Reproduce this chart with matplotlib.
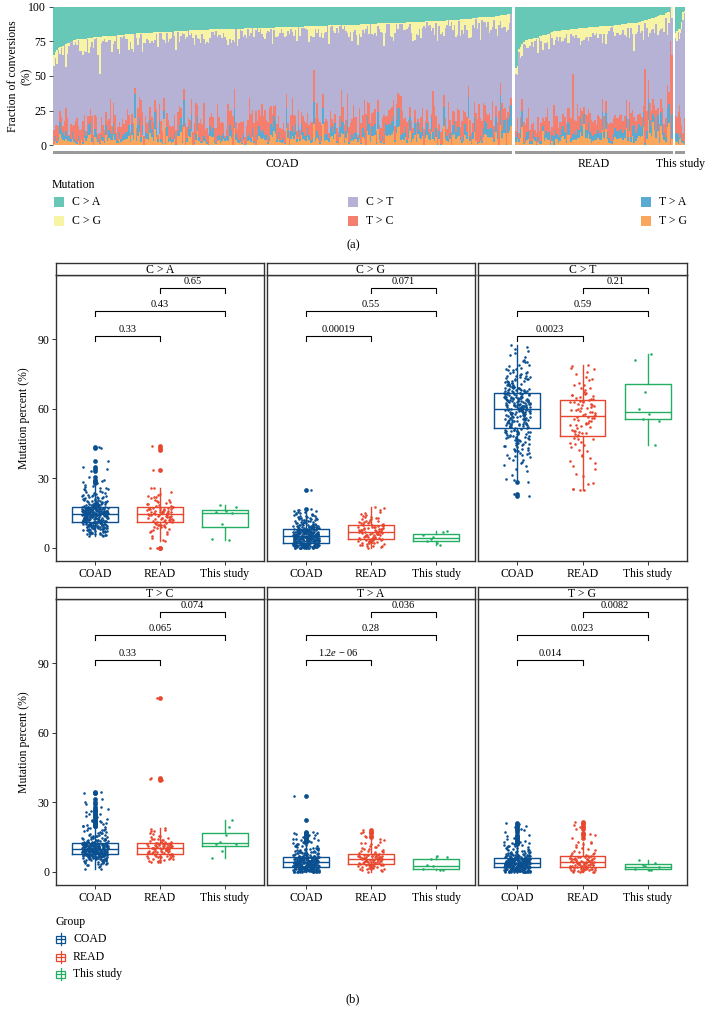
import numpy as np
import matplotlib
matplotlib.use("Agg")
import matplotlib.pyplot as plt
from matplotlib.patches import Rectangle
from matplotlib.lines import Line2D

plt.rcParams['font.family'] = ['Liberation Serif', 'DejaVu Serif']
plt.rcParams['mathtext.fontset'] = 'custom'
plt.rcParams['mathtext.rm'] = 'Liberation Serif'
plt.rcParams['mathtext.it'] = 'Liberation Serif:italic'

# ---------------- data ----------------
mutations = ["C > A", "C > G", "C > T", "T > C", "T > A", "T > G"]
groups = ["COAD", "READ", "This study"]
mut_colors = ["#68C8B7", "#F8F4A6", "#B5B2D6", "#F47F6F", "#5BAAD1", "#F8A75C"]
group_colors = ["#0A4F8F", "#E8472E", "#23AE63"]

p_labels = [["0.33", "0.43", "0.65"],
            ["0.00019", "0.55", "0.071"],
            ["0.0023", "0.59", "0.21"],
            ["0.33", "0.065", "0.074"],
            [r"1.2$\mathit{e}$ − 06", "0.28", "0.036"],
            ["0.014", "0.023", "0.0082"]]

coad_ca = [12.3, 8.4, 19.6, 15.2, 10.1, 13.7, 22.4, 16.1, 6.8, 14.0, 17.3, 24.8, 11.9, 9.5, 15.8, 18.9, 12.8, 7.2, 16.9, 21.0,
           43.5, 14.2, 9.8, 16.4, 11.5, 5.6, 20.3, 15.0, 12.9, 17.6, 8.9, 18.2, 13.1, 10.7, 16.7, 25.9, 14.4, 7.7, 15.5, 19.1,
           10.4, 17.1, 13.3, 23.7, 6.2, 15.9, 12.0, 18.5, 14.6, 9.1, 16.3, 29.5, 11.4, 20.8, 8.0, 15.4, 13.9, 17.4, 10.9, 19.8,
           15.7, 11.1, 21.6, 7.9, 14.3, 12.6, 26.4, 16.0, 9.3, 13.5, 18.0, 17.0, 5.2, 14.1, 22.9, 15.3, 10.2, 11.8, 19.4, 16.6,
           9.7, 16.2, 37.5, 12.4, 14.9, 8.6, 18.7, 13.0, 17.5, 6.5, 20.0, 11.3, 15.6, 24.1, 10.6, 14.5, 16.8, 21.9, 13.6, 7.4,
           13.8, 19.0, 10.8, 15.1, 22.0, 6.0, 12.2, 17.2, 28.5, 9.0, 14.7, 11.6, 16.5, 18.4, 8.2, 13.2, 15.9, 20.6, 10.0, 14.0,
           11.0, 25.2, 14.3, 7.0, 16.0, 19.3, 12.7, 15.4, 9.9, 35.0, 13.4, 17.3, 5.8, 21.2, 12.1, 11.7, 16.4, 8.8, 18.6, 15.8,
           17.0, 8.1, 13.1, 20.1, 10.5, 15.6, 23.3, 12.5, 16.9, 6.6, 14.2, 18.1, 9.4, 17.6, 11.2, 27.0, 15.2, 13.8, 7.5, 19.7,
           14.0, 6.9, 18.3, 16.3, 12.1, 30.5, 10.3, 15.0, 13.6, 21.4, 8.5, 17.4, 11.5, 19.9, 16.1, 9.6, 14.4, 24.5, 15.7, 5.4,
           12.9, 16.6, 9.2, 22.7, 15.3, 11.8, 18.8, 7.3, 14.6, 17.1, 43.0, 10.6, 13.0, 16.0, 20.4, 8.3, 15.5, 12.4, 26.0, 9.8,
           15.9, 10.0, 13.5, 19.5, 6.3, 17.7, 12.3, 23.0, 14.8, 8.7, 21.5, 11.4, 16.8, 34.0, 10.9, 13.9, 15.1, 18.0, 7.8, 14.1,
           8.0, 14.5, 20.7, 16.2, 11.0, 13.3, 25.5, 9.4, 17.5, 15.4, 12.6, 18.2, 5.9, 16.7, 22.2, 14.2, 10.4, 29.0, 15.8, 11.9,
           17.2, 12.0, 7.1, 19.2, 14.9, 10.7, 33.0, 13.7, 16.4, 9.0, 21.8, 15.0, 11.3, 18.5, 6.1, 14.0, 17.0, 24.0, 12.8, 8.9,
           13.0, 18.9, 15.6, 10.2, 23.8, 12.2, 16.9, 7.6, 20.2, 14.3, 9.1, 17.3, 26.8, 11.6, 15.2, 5.0, 19.0, 13.6, 16.1, 10.8,
           16.0, 9.3, 28.0, 14.6, 11.1, 17.6, 20.9, 6.4, 13.4, 15.7, 18.6, 12.5, 10.1, 22.6, 16.6, 8.4, 11.9, 19.6, 13.2, 15.3]
coad_cg = [1.2, 6.3, 3.8, 9.5, 0.4, 4.7, 7.1, 12.8, 2.9, 5.9, 1.8, 10.6, 4.1, 7.8, 0.9, 3.3, 6.6, 8.9, 1.5, 14.2,
           5.0, 0.0, 8.6, 1.6, 6.8, 11.3, 1.0, 4.4, 7.4, 3.1, 13.9, 0.6, 5.7, 9.2, 2.0, 4.9, 6.1, 15.6, 3.6, 7.9,
           3.4, 7.2, 0.2, 9.9, 4.6, 1.4, 6.0, 12.1, 2.7, 5.3, 8.4, 0.8, 7.6, 3.9, 16.8, 1.9, 6.5, 4.2, 10.8, 0.5,
           6.4, 2.1, 9.0, 4.0, 0.3, 7.7, 14.5, 3.0, 5.6, 1.1, 11.8, 4.8, 6.9, 0.7, 8.3, 2.4, 4.5, 13.0, 1.7, 7.0,
           0.1, 2.0, 8.8, 3.5, 6.7, 10.2, 1.3, 4.3, 7.3, 2.6, 12.5, 0.5, 5.9, 9.6, 3.2, 1.6, 6.2, 15.0, 4.9, 7.5,
           4.5, 9.3, 1.0, 6.1, 2.8, 13.4, 7.9, 0.0, 3.7, 5.2, 11.0, 1.9, 6.8, 4.0, 8.5, 0.6, 1.2, 7.2, 16.2, 5.6,
           7.0, 0.9, 3.9, 10.5, 5.5, 1.5, 8.2, 4.7, 12.0, 2.2, 6.4, 0.2, 9.1, 3.0, 5.0, 14.8, 1.8, 6.9, 4.1, 7.7,
           2.0, 6.6, 11.6, 24.8, 0.4, 4.4, 7.5, 1.2, 9.7, 3.3, 5.8, 0.0, 13.7, 4.8, 6.2, 2.6, 8.0, 1.7, 3.6, 10.1,
           5.3, 1.4, 8.7, 3.1, 0.8, 6.3, 15.9, 4.2, 7.8, 0.1, 10.9, 2.9, 5.7, 12.4, 1.9, 4.6, 6.8, 9.4, 2.4, 0.3,
           0.6, 7.4, 4.0, 11.4, 6.0, 2.1, 9.8, 3.4, 0.0, 5.4, 14.0, 4.9, 1.1, 7.9, 8.9, 2.7, 6.5, 1.6, 4.5, 12.9,
           3.8, 8.1, 0.3, 6.6, 10.0, 1.8, 5.1, 13.1, 2.5, 7.0, 0.7, 4.3, 9.0, 5.9, 1.3, 16.5, 3.2, 6.2, 0.9, 11.7,
           6.9, 1.9, 12.2, 4.6, 0.5, 7.6, 3.5, 9.2, 1.5, 5.5, 15.3, 0.0, 6.3, 3.9, 8.6, 2.8, 1.0, 10.4, 7.2, 4.1,
           4.2, 0.2, 7.7, 13.6, 2.6, 5.6, 1.1, 9.5, 6.7, 3.0, 0.8, 11.1, 4.7, 7.1, 1.7, 8.4, 3.7, 5.9, 14.3, 0.4,
           1.4, 5.7, 9.9, 3.3, 7.3, 0.0, 12.7, 4.4, 6.1, 2.0, 8.3, 5.0, 1.2, 16.0, 3.6, 7.9, 0.6, 10.7, 2.9, 6.4,
           7.5, 3.1, 0.1, 6.5, 11.9, 4.9, 1.6, 8.8, 2.4, 5.3, 13.3, 0.9, 7.0, 4.0, 9.6, 1.9, 6.2, 3.4, 0.0, 15.1]
coad_ct = [58.2, 47.5, 63.1, 71.4, 55.0, 39.8, 66.2, 60.5, 52.3, 75.9, 49.1, 61.7, 57.4, 69.0, 44.6, 64.3, 53.8, 80.2, 72.6, 50.6,
           65.0, 54.1, 42.3, 68.8, 59.6, 61.2, 50.9, 73.5, 56.7, 63.8, 35.4, 77.1, 52.9, 60.1, 48.2, 66.5, 58.8, 70.3, 45.7, 84.0,
           51.0, 64.7, 57.9, 86.5, 46.3, 60.8, 53.4, 69.7, 62.5, 41.0, 55.8, 74.2, 65.9, 49.6, 59.1, 67.8, 28.6, 63.3, 54.7, 71.9,
           61.5, 44.0, 68.1, 56.2, 72.8, 50.2, 63.6, 58.5, 37.9, 66.0, 53.0, 78.4, 47.8, 61.0, 55.5, 70.6, 64.9, 43.2, 59.9, 67.3,
           57.1, 69.4, 49.9, 62.2, 83.1, 53.6, 45.1, 64.0, 59.3, 71.0, 22.6, 60.3, 55.2, 67.0, 51.5, 65.5, 74.8, 58.0, 40.5, 63.0,
           63.9, 52.6, 76.5, 47.0, 60.0, 68.4, 56.0, 34.2, 65.2, 58.9, 72.1, 50.0, 61.9, 54.4, 81.0, 42.8, 66.7, 59.5, 69.9, 48.9,
           54.9, 66.3, 44.9, 70.0, 59.0, 61.6, 38.6, 73.0, 57.7, 64.6, 51.2, 87.5, 53.1, 60.7, 48.5, 67.5, 62.4, 56.5, 46.1, 75.2,
           60.9, 48.0, 57.3, 40.2, 63.5, 52.0, 41.7, 68.0, 55.9, 61.4, 71.6, 36.8, 59.7, 64.1, 50.4, 66.9, 58.3, 76.0, 62.1, 79.0,
           66.1, 58.6, 72.4, 43.9, 61.1, 55.3, 84.8, 49.4, 63.2, 57.0, 69.2, 39.0, 64.8, 52.5, 60.6, 74.0, 47.2, 59.2, 31.5, 68.6,
           53.3, 70.8, 62.6, 46.7, 59.4, 77.7, 64.4, 51.8, 56.3, 40.0, 61.3, 67.1, 58.1, 73.8, 48.7, 63.7, 44.4, 29.8, 66.4, 71.2,
           62.8, 45.4, 56.9, 68.2, 50.8, 65.1, 74.5, 58.4, 33.0, 61.8, 53.9, 80.6, 64.2, 48.4, 59.8, 70.4, 55.6, 42.1, 67.6, 60.4,
           57.6, 63.4, 49.0, 71.7, 54.3, 23.1, 60.9, 66.6, 52.2, 75.4, 58.7, 62.3, 44.3, 69.5, 55.1, 64.5, 47.9, 82.3, 41.9, 68.9,
           65.3, 50.5, 59.9, 43.6, 70.1, 62.8, 56.4, 78.8, 46.4, 63.0, 53.7, 67.9, 61.5, 37.2, 58.0, 72.9, 64.0, 76.7, 55.7, 29.3,
           58.9, 66.8, 52.7, 61.6, 47.3, 73.3, 55.4, 64.7, 40.9, 69.1, 60.0, 57.5, 85.6, 49.8, 63.1, 53.2, 67.4, 45.9, 71.8, 38.1,
           54.5, 61.9, 68.5, 48.1, 59.3, 64.9, 76.9, 42.6, 56.8, 63.6, 50.1, 70.7, 57.9, 66.2, 35.9, 60.8, 52.8, 79.9, 46.8, 73.9]
coad_tc = [9.1, 5.6, 13.8, 11.2, 8.3, 22.5, 10.4, 7.0, 16.1, 9.5, 12.0, 3.9, 8.8, 14.9, 10.9, 6.4, 18.2, 9.7, 11.7, 7.4,
           10.2, 7.5, 8.6, 15.3, 12.3, 4.8, 9.3, 27.0, 11.0, 6.9, 8.1, 13.1, 10.7, 2.5, 9.8, 17.4, 11.9, 7.7, 20.8, 8.9,
           6.2, 11.4, 9.0, 14.2, 8.4, 10.6, 34.5, 7.2, 12.4, 9.6, 19.1, 5.1, 10.0, 8.7, 13.5, 11.8, 3.3, 9.2, 24.3, 6.8,
           12.1, 8.5, 16.7, 7.9, 10.3, 5.9, 9.4, 21.6, 11.5, 7.3, 13.4, 9.9, 4.2, 8.0, 10.8, 15.8, 6.6, 12.2, 7.1, 29.4,
           8.2, 13.0, 10.5, 6.0, 9.7, 17.9, 11.3, 7.6, 25.1, 8.9, 12.4, 10.1, 5.3, 14.6, 9.2, 11.6, 2.0, 8.4, 19.4, 7.0,
           11.1, 9.0, 14.4, 7.8, 8.6, 20.2, 10.8, 6.5, 12.3, 9.4, 16.5, 4.6, 10.2, 8.1, 31.6, 7.4, 11.9, 9.8, 13.9, 5.7,
           9.5, 12.8, 7.1, 10.0, 23.0, 8.3, 11.7, 5.0, 15.0, 9.1, 10.6, 6.3, 18.6, 8.7, 12.1, 3.6, 26.2, 9.6, 11.3, 7.5,
           13.6, 8.0, 10.9, 6.7, 9.3, 21.0, 11.4, 7.7, 17.0, 8.8, 12.5, 4.4, 9.9, 14.1, 10.4, 1.2, 28.1, 9.2, 11.8, 6.1,
           10.1, 7.2, 15.6, 9.0, 12.0, 5.5, 8.5, 20.5, 11.1, 6.8, 9.7, 13.2, 10.7, 3.0, 8.2, 33.9, 11.6, 7.9, 18.8, 6.0,
           8.6, 11.5, 6.9, 14.7, 9.3, 10.3, 24.8, 7.4, 12.2, 8.1, 16.9, 5.2, 10.9, 9.8, 13.3, 4.0, 11.0, 8.9, 22.0, 7.6,
           12.4, 9.6, 7.3, 18.0, 10.5, 8.4, 13.7, 6.4, 11.2, 9.1, 30.2, 5.8, 10.0, 8.7, 15.4, 2.8, 11.9, 9.5, 19.8, 7.0,
           9.9, 14.3, 8.0, 11.6, 6.6, 21.9, 10.2, 7.8, 12.9, 9.2, 10.8, 4.9, 17.3, 8.5, 11.4, 5.4, 25.7, 9.0, 12.3, 7.1,
           7.7, 10.6, 16.0, 9.4, 12.7, 8.3, 11.0, 3.8, 23.6, 9.8, 10.4, 6.1, 14.0, 8.6, 12.0, 5.0, 19.2, 9.1, 11.5, 6.8,
           11.3, 8.2, 13.0, 7.0, 9.7, 34.0, 10.1, 6.2, 15.2, 8.9, 11.8, 4.5, 9.3, 20.0, 10.7, 7.5, 13.8, 8.4, 12.1, 1.5,
           10.0, 6.5, 12.6, 9.0, 11.3, 7.9, 17.6, 5.6, 10.5, 8.6, 26.8, 7.2, 12.2, 9.5, 14.8, 3.5, 11.1, 8.1, 21.3, 4.1]
coad_ta = [3.1, 0.8, 5.2, 9.4, 1.5, 4.0, 7.3, 2.6, 5.9, 0.2, 11.8, 3.7, 6.1, 1.9, 8.0, 2.9, 4.8, 14.6, 0.5, 5.5,
           4.6, 2.0, 7.9, 1.1, 3.5, 10.2, 5.7, 0.0, 2.4, 6.3, 16.1, 4.1, 1.6, 8.7, 3.0, 5.0, 0.7, 6.0, 3.9, 12.4,
           0.4, 6.4, 3.3, 4.5, 22.4, 1.3, 5.8, 2.7, 9.9, 0.9, 4.2, 6.2, 2.1, 7.6, 3.8, 13.9, 5.1, 1.8, 3.0, 8.5,
           5.3, 1.0, 2.8, 7.1, 4.4, 0.3, 11.0, 3.6, 6.0, 1.7, 15.3, 2.3, 4.9, 8.2, 0.0, 3.2, 5.6, 10.5, 1.4, 4.0,
           2.5, 6.2, 0.6, 4.7, 9.0, 3.4, 1.2, 5.4, 12.9, 2.0, 4.1, 7.7, 0.1, 6.4, 3.9, 17.0, 1.9, 5.0, 2.9, 8.8,
           4.3, 1.6, 8.3, 3.0, 5.9, 0.5, 7.0, 2.2, 32.7, 4.6, 1.0, 6.5, 3.7, 10.8, 0.2, 5.2, 2.6, 13.5, 4.0, 6.1,
           0.9, 5.5, 3.2, 11.4, 6.3, 2.4, 4.5, 0.3, 7.4, 3.8, 1.5, 9.6, 5.7, 2.9, 14.2, 4.9, 0.0, 6.6, 3.5, 1.1,
           4.8, 2.1, 4.2, 0.7, 8.6, 5.1, 3.3, 12.0, 1.3, 5.8, 2.7, 15.8, 0.4, 4.4, 7.2, 3.6, 6.0, 1.8, 9.3, 4.0,
           3.9, 0.0, 6.2, 2.5, 10.0, 4.8, 1.1, 7.8, 5.3, 3.1, 13.1, 0.8, 4.6, 2.3, 6.4, 1.7, 8.9, 0.6, 3.4, 16.6,
           5.0, 2.8, 9.2, 1.4, 4.1, 7.5, 0.2, 3.5, 6.1, 11.6, 2.0, 5.7, 4.7, 0.9, 8.1, 3.0, 14.9, 1.6, 6.3, 2.6,
           1.9, 6.7, 3.7, 0.1, 5.4, 12.6, 2.4, 4.9, 8.4, 0.6, 3.3, 6.0, 1.3, 10.4, 4.5, 2.9, 7.0, 5.2, 0.0, 3.8,
           4.4, 1.0, 7.9, 3.1, 5.8, 15.0, 2.5, 0.5, 6.2, 3.9, 9.7, 1.7, 4.9, 2.1, 11.2, 5.5, 3.4, 0.3, 6.8, 4.0,
           2.7, 5.6, 0.8, 8.0, 4.2, 1.5, 6.4, 13.8, 3.6, 0.0, 5.1, 2.3, 7.3, 4.7, 1.2, 10.1, 3.0, 6.0, 17.4, 1.8,
           6.5, 3.2, 1.1, 5.0, 9.5, 2.8, 0.4, 4.6, 7.6, 3.7, 12.2, 1.9, 5.9, 0.7, 4.1, 8.7, 2.4, 6.1, 16.2, 1.4,
           0.6, 4.5, 2.6, 7.0, 5.2, 1.3, 11.1, 3.5, 6.3, 0.0, 4.0, 8.3, 2.0, 5.7, 14.4, 3.3, 1.6, 6.0, 9.8, 2.9]
coad_tg = [2.9, 0.6, 4.8, 8.1, 1.4, 3.5, 6.6, 2.4, 5.2, 0.1, 10.3, 3.0, 5.7, 1.8, 7.2, 2.6, 4.2, 13.5, 0.9, 4.5,
           4.1, 1.7, 7.0, 0.8, 3.2, 9.2, 5.3, 0.0, 2.3, 5.9, 19.8, 3.8, 1.2, 7.8, 2.7, 4.6, 0.4, 5.0, 3.4, 11.0,
           0.3, 5.8, 3.1, 4.0, 15.2, 1.1, 5.1, 2.5, 8.6, 0.7, 3.7, 5.5, 1.9, 6.8, 3.3, 12.4, 4.4, 1.5, 2.8, 7.5,
           4.7, 0.9, 2.6, 6.4, 4.0, 0.2, 9.8, 3.3, 5.4, 1.6, 20.6, 2.2, 4.3, 7.3, 0.0, 2.9, 5.0, 10.7, 1.3, 3.6,
           2.0, 5.2, 0.5, 4.2, 8.0, 3.0, 1.0, 4.9, 11.5, 1.8, 3.5, 6.9, 0.0, 5.6, 3.4, 17.3, 3.2, 4.5, 2.5, 7.7,
           3.8, 1.3, 7.4, 2.7, 5.2, 0.4, 6.3, 1.9, 21.0, 4.1, 0.8, 5.8, 3.2, 9.6, 0.1, 4.6, 2.3, 12.9, 3.5, 5.5,
           0.7, 4.9, 2.9, 10.1, 5.6, 2.1, 4.0, 0.2, 6.5, 3.4, 1.4, 8.5, 5.1, 2.6, 14.0, 4.4, 0.0, 7.0, 3.1, 3.6,
           6.0, 1.8, 3.7, 0.6, 7.6, 4.5, 2.9, 11.2, 1.2, 5.1, 2.4, 18.7, 0.3, 3.9, 6.7, 3.2, 5.3, 1.5, 8.3, 4.3,
           3.4, 0.0, 5.5, 2.2, 9.0, 4.2, 0.9, 6.9, 4.8, 2.7, 12.1, 0.6, 4.0, 2.0, 5.7, 1.5, 7.9, 3.6, 3.0, 16.0,
           4.4, 2.5, 8.2, 1.0, 3.6, 6.6, 0.1, 3.1, 5.4, 10.6, 1.7, 4.9, 3.8, 0.5, 7.1, 2.8, 13.2, 1.3, 5.8, 4.1,
           1.6, 5.9, 3.3, 0.0, 4.7, 11.8, 2.0, 4.3, 7.5, 0.4, 2.9, 5.3, 1.1, 9.3, 4.0, 2.4, 6.4, 19.2, 3.0, 3.5,
           4.2, 0.9, 7.2, 2.8, 5.0, 14.8, 2.3, 0.3, 5.6, 3.4, 8.8, 1.4, 4.5, 1.9, 10.0, 4.9, 3.1, 0.0, 6.2, 3.7,
           2.4, 5.1, 0.6, 7.0, 3.7, 1.2, 5.7, 12.6, 3.2, 0.0, 4.6, 2.1, 6.7, 4.2, 1.0, 9.1, 2.7, 5.4, 17.9, 3.5,
           5.8, 2.9, 1.0, 4.5, 8.4, 2.5, 0.2, 4.1, 6.9, 3.3, 11.0, 1.7, 5.3, 0.5, 3.6, 7.8, 2.2, 5.5, 15.6, 1.3,
           0.5, 4.0, 2.3, 6.3, 4.7, 1.1, 10.4, 3.1, 5.6, 0.0, 3.6, 7.4, 1.8, 5.2, 13.0, 2.9, 1.4, 5.0, 8.9, 2.6]

read_ca = [12.5, 17.0, 8.9, 21.4, 14.0, 0.0, 16.2, 11.6, 25.8, 13.2, 15.5, 6.7, 19.3, 10.4, 17.5, 12.9, 44.0, 15.0, 9.8, 22.6,
           16.8, 10.9, 13.6, 42.0, 7.4, 15.2, 20.1, 12.2, 3.5, 17.3, 11.9, 18.6, 14.4, 9.2, 16.0, 24.0, 13.0, 5.1, 15.8, 19.9,
           14.7, 9.5, 22.0, 12.7, 16.5, 0.0, 13.9, 18.1, 11.3, 15.6, 33.5, 8.1, 14.1, 17.1, 12.0, 20.7, 15.3, 10.1, 26.0, 6.0,
           11.1, 18.9, 15.9, 7.9, 13.3, 43.0, 16.6, 10.6, 21.8, 12.4, 14.9, 4.4, 17.4, 13.8, 19.0, 9.9, 15.1, 11.5, 23.4, 14.3,
           13.5, 8.4, 17.8, 15.4, 11.8, 20.5, 10.0, 16.9, 2.9, 14.6, 18.3, 12.6, 15.7, 7.0, 22.8, 13.1, 16.4, 9.0, 19.6, 17.2]
read_cg = [5.2, 8.1, 2.4, 12.6, 6.0, 0.0, 9.0, 4.7, 15.1, 7.5, 3.1, 10.8, 5.9, 1.8, 8.6, 4.1, 13.9, 7.2, 2.9, 11.4,
           7.8, 3.5, 10.1, 6.3, 1.2, 9.4, 4.9, 17.3, 2.2, 8.3, 5.6, 12.0, 3.8, 7.0, 14.4, 6.6, 0.9, 9.7, 4.4, 11.1,
           4.3, 9.2, 6.7, 0.5, 13.2, 7.7, 2.6, 5.4, 10.5, 3.3, 8.8, 16.2, 6.1, 1.5, 7.3, 11.8, 4.0, 9.9, 2.0, 12.9,
           8.5, 2.8, 5.5, 11.0, 7.1, 3.9, 14.8, 6.4, 1.0, 9.6, 4.6, 10.3, 8.0, 2.1, 6.9, 17.7, 5.3, 3.6, 12.3, 7.9,
           6.2, 10.7, 1.6, 8.9, 4.8, 15.6, 3.0, 7.4, 12.8, 5.7, 0.7, 9.1, 6.5, 11.6, 2.5, 7.6, 4.2, 13.5, 8.2, 3.4]
read_ct = [55.2, 61.0, 44.3, 70.4, 52.1, 25.0, 63.0, 49.5, 74.8, 58.7, 40.2, 66.1, 54.0, 59.9, 36.5, 68.0, 50.6, 62.2, 45.8, 77.5,
           60.5, 48.3, 65.4, 30.8, 25.6, 72.3, 42.1, 58.2, 53.7, 64.7, 56.0, 61.8, 51.0, 79.0, 46.9, 57.0, 67.2, 55.5, 38.8, 63.4,
           52.8, 66.9, 59.4, 47.0, 62.7, 25.3, 54.6, 71.1, 33.9, 57.8, 49.0, 64.2, 60.1, 43.5, 75.9, 56.3, 28.2, 63.1, 50.3, 69.0,
           58.9, 45.2, 73.6, 53.1, 61.5, 39.6, 65.9, 56.6, 48.8, 77.0, 25.1, 62.9, 54.9, 68.7, 59.6, 41.7, 51.8, 64.0, 57.2, 35.2,
           63.6, 50.0, 57.4, 66.4, 44.8, 60.7, 52.4, 78.2, 27.4, 62.0, 55.8, 70.0, 47.5, 58.5, 64.9, 37.3, 53.5, 31.7, 72.7, 49.4]
read_tc = [9.2, 11.8, 6.5, 15.0, 10.0, 75.0, 12.1, 8.3, 17.6, 10.9, 5.2, 13.4, 9.6, 7.0, 11.3, 8.8, 14.2, 10.6, 4.3, 6.1,
           11.0, 7.4, 13.1, 9.9, 40.3, 12.0, 8.6, 5.8, 10.4, 16.4, 9.0, 11.6, 4.8, 18.3, 10.1, 7.6, 12.3, 8.1, 14.7, 6.3,
           8.0, 12.2, 10.5, 6.0, 15.7, 40.0, 9.4, 11.4, 7.2, 13.9, 10.2, 5.5, 11.9, 8.9, 19.0, 7.9, 10.8, 12.9, 4.1, 6.8,
           10.7, 6.7, 13.6, 8.4, 11.5, 4.5, 16.9, 9.3, 12.5, 7.7, 39.8, 10.3, 8.7, 14.4, 11.2, 5.0, 9.8, 12.0, 6.9, 17.8,
           9.5, 12.6, 7.1, 11.1, 5.6, 10.0, 15.3, 8.2, 13.0, 11.7, 6.4, 9.1, 18.6, 10.9, 4.9, 8.5, 12.2, 14.0, 7.5, 10.4]
read_ta = [4.6, 7.0, 2.2, 10.4, 5.1, 0.0, 6.8, 3.9, 12.7, 6.1, 1.4, 9.0, 4.2, 7.5, 2.9, 5.3, 17.9, 6.4, 3.1, 8.3,
           6.6, 3.0, 8.9, 5.5, 1.0, 7.3, 4.4, 13.6, 2.6, 6.0, 4.9, 11.2, 3.4, 7.7, 15.2, 5.8, 1.9, 3.8, 4.0, 9.7,
           3.7, 8.6, 6.2, 0.8, 11.9, 16.8, 2.3, 4.8, 9.4, 2.8, 7.4, 14.0, 5.0, 1.5, 6.7, 6.3, 3.6, 7.1, 2.0, 5.6,
           7.2, 2.5, 5.2, 9.9, 6.5, 3.3, 12.4, 5.9, 1.2, 8.7, 4.3, 17.4, 7.6, 1.7, 6.9, 10.9, 4.7, 3.2, 4.1, 5.4,
           5.5, 9.2, 1.1, 7.8, 4.5, 13.0, 2.7, 6.3, 10.6, 5.3, 0.6, 6.8, 6.0, 11.5, 3.4, 7.0, 3.9, 15.7, 4.9, 2.1]
read_tg = [3.5, 6.0, 1.2, 9.1, 4.8, 0.0, 5.9, 2.7, 11.5, 5.2, 0.6, 8.0, 3.1, 6.4, 1.8, 4.0, 21.6, 1.5, 2.3, 7.4,
           5.5, 2.0, 7.9, 4.1, 0.3, 6.5, 3.3, 15.8, 1.5, 5.0, 3.8, 10.2, 2.5, 6.7, 13.0, 4.5, 0.9, 1.0, 2.9, 19.4,
           2.6, 7.5, 5.3, 0.1, 17.0, 4.4, 1.0, 3.9, 9.6, 2.2, 6.2, 12.4, 4.9, 0.7, 5.8, 4.2, 3.0, 21.0, 1.7, 3.6,
           6.3, 1.9, 4.3, 10.9, 5.6, 2.4, 14.6, 5.1, 0.4, 8.3, 3.4, 20.3, 6.8, 1.3, 4.7, 1.6, 3.7, 2.8, 11.9, 0.0,
           4.9, 8.8, 0.8, 6.6, 3.2, 12.9, 2.1, 5.7, 9.9, 4.0, 0.2, 3.0, 5.4, 16.3, 2.9, 6.1, 3.9, 18.5, 1.4, 0.5]

ts_ca = [18.5, 17.5, 16.0, 15.5, 15.0, 10.5, 4.0, 3.5]
ts_cg = [4.0, 7.5, 2.2, 3.0, 6.8, 4.6, 5.5, 1.2]
ts_ct = [55.7, 54.7, 57.5, 60.0, 44.5, 67.2, 81.0, 83.6]
ts_tc = [13.0, 12.0, 16.0, 12.0, 22.5, 9.0, 6.0, 19.5]
ts_ta = [5.5, 6.5, 7.0, 3.0, 1.0, 2.5, 1.5, 0.8]
ts_tg = [3.0, 2.0, 1.0, 5.0, 4.0, 2.5, 1.5, 1.0]

grp_data = [[coad_ca, coad_cg, coad_ct, coad_tc, coad_ta, coad_tg],
            [read_ca, read_cg, read_ct, read_tc, read_ta, read_tg],
            [ts_ca, ts_cg, ts_ct, ts_tc, ts_ta, ts_tg]]

# ---------------- layout helpers ----------------
W, H = 706, 1018
fig = plt.figure(figsize=(W / 100, H / 100), dpi=100)


def fr(x0, y0, x1, y1):
    return [x0 / W, 1 - y1 / H, (x1 - x0) / W, (y1 - y0) / H]


def fx(x):
    return x / W


def fy(y):
    return 1 - y / H


def jitter(n, width=0.2):
    k = np.arange(n)
    return ((k * 0.6180339887498949 + 0.31) % 1.0 - 0.5) * 2 * width


FS = 8.5

# ---------------- panel (a) ----------------
panel_a_x = [(53, 512), (515, 673), (675, 685)]
ya_top, ya_bot = 0, 152
for gi, g in enumerate(grp_data):
    x0, x1 = panel_a_x[gi]
    n = len(g[0])
    ax = fig.add_axes(fr(x0, ya_top, x1, ya_bot))
    arr = np.array(g, dtype=float)
    frac = arr / arr.sum(axis=0) * 100
    order = np.argsort(-frac[0], kind='stable')
    frac = frac[:, order]
    pos = np.arange(n)
    bottom = np.zeros(n)
    for mi in [5, 4, 3, 2, 1, 0]:
        ax.bar(pos, frac[mi], bottom=bottom, width=1.0, color=mut_colors[mi],
               linewidth=0, antialiased=False)
        bottom += frac[mi]
    ax.set_xlim(-0.6, n - 0.4)
    ax.set_ylim(-5, 105)
    for s in ax.spines.values():
        s.set_visible(False)
    ax.set_xticks([])
    if gi == 0:
        ax.set_yticks([0, 25, 50, 75, 100])
        ax.tick_params(axis='y', length=3, width=0.6, color='#333333',
                       labelsize=FS, pad=2)
    else:
        ax.set_yticks([])
    fig.add_artist(Rectangle((fx(x0), fy(154)), (x1 - x0) / W, 3 / H, transform=fig.transFigure,
                             facecolor='#9a9a9a', edgecolor='none'))
    fig.text(fx((x0 + x1) / 2), fy(164), groups[gi], ha='center', va='center', fontsize=FS)

fig.text(fx(20), fy(76), "Fraction of conversions\n(%)", rotation=90, ha='center',
         va='center', fontsize=FS, linespacing=1.15)

# legend (a)
fig.text(fx(52), fy(185), "Mutation", ha='left', va='center', fontsize=FS)
leg_cols = [(54, [0, 1]), (348, [2, 3]), (641, [4, 5])]
leg_rows = [202, 221]
for kx, mis in leg_cols:
    for ri, mi in enumerate(mis):
        y = leg_rows[ri]
        fig.add_artist(Rectangle((fx(kx), fy(y + 5)), 10 / W, 10 / H, transform=fig.transFigure,
                                 facecolor=mut_colors[mi], edgecolor='none'))
        fig.text(fx(kx + 18), fy(y), mutations[mi], ha='left', va='center', fontsize=FS)
fig.text(fx(353), fy(245), "(a)", ha='center', va='center', fontsize=9)

# ---------------- panel (b) ----------------
cols_x = [(56, 264), (267, 475), (478, 687)]
zero_y = [548, 872]
ppu_b = 2.322
ylo, yhi = -5.6, 117.6
strip_h = 12
pairs = [(1, 2), (1, 3), (2, 3)]
br_y = [91.5, 102.0, 112.0]
tip = 2.3
edge = '#333333'

for k, m in enumerate(mutations):
    r, c = divmod(k, 3)
    x0, x1 = cols_x[c]
    top = zero_y[r] - yhi * ppu_b
    bot = zero_y[r] - ylo * ppu_b
    ax = fig.add_axes(fr(x0, top, x1, bot))
    for gi in range(3):
        vals = np.asarray(grp_data[gi][k], dtype=float)
        col = group_colors[gi]
        ax.boxplot([vals], positions=[gi + 1], widths=0.7, showcaps=False, manage_ticks=False,
                   boxprops=dict(color=col, linewidth=1.0),
                   medianprops=dict(color=col, linewidth=1.0),
                   whiskerprops=dict(color=col, linewidth=1.0),
                   flierprops=dict(marker='o', markersize=3.4, markerfacecolor=col,
                                   markeredgecolor=col, markeredgewidth=0))
        ax.scatter(gi + 1 + jitter(len(vals)), vals, s=3.4, color=col, linewidths=0, zorder=3)
    for (a, b), yv, lab in zip(pairs, br_y, p_labels[k]):
        ax.plot([a, a, b, b], [yv - tip, yv, yv, yv - tip], color='black', lw=0.8)
        ax.text((a + b) / 2, yv + 0.8, lab, ha='center', va='bottom', fontsize=7.5)
    ax.set_xlim(0.4, 3.6)
    ax.set_ylim(ylo, yhi)
    ax.set_xticks([1, 2, 3])
    ax.set_xticklabels(groups)
    ax.set_yticks([0, 30, 60, 90])
    ax.tick_params(length=3, width=0.7, color=edge, labelsize=FS, pad=2)
    if c != 0:
        ax.set_yticklabels([])
        ax.tick_params(axis='y', length=0)
    for s in ax.spines.values():
        s.set_linewidth(1.0)
        s.set_color(edge)
    sax = fig.add_axes(fr(x0, top - strip_h, x1, top))
    sax.set_xticks([])
    sax.set_yticks([])
    for s in sax.spines.values():
        s.set_linewidth(1.0)
        s.set_color(edge)
    sax.text(0.5, 0.45, m, ha='center', va='center', fontsize=FS, transform=sax.transAxes)
    if c == 0:
        fig.text(fx(24), fy((top + bot) / 2), "Mutation percent (%)", rotation=90,
                 ha='center', va='center', fontsize=FS)

# legend (b)
fig.text(fx(56), fy(922), "Group", ha='left', va='center', fontsize=FS)
for gi, y in enumerate([939, 957, 974]):
    col = group_colors[gi]
    fig.add_artist(Rectangle((fx(56), fy(y + 3.5)), 9 / W, 7 / H, transform=fig.transFigure,
                             facecolor='white', edgecolor=col, linewidth=0.9))
    fig.add_artist(Line2D([fx(56), fx(65)], [fy(y), fy(y)], transform=fig.transFigure,
                          color=col, linewidth=0.9))
    fig.add_artist(Line2D([fx(60.5), fx(60.5)], [fy(y - 6), fy(y + 6)], transform=fig.transFigure,
                          color=col, linewidth=0.9))
    fig.text(fx(73), fy(y), groups[gi], ha='left', va='center', fontsize=FS)
fig.text(fx(353), fy(999), "(b)", ha='center', va='center', fontsize=9)

fig.savefig("out.png", dpi=100)
